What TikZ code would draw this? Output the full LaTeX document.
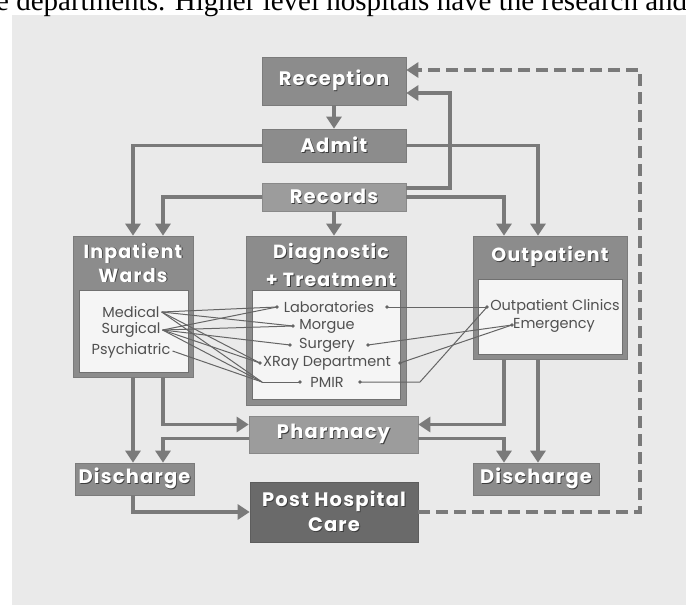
\documentclass[tikz,border=0pt]{standalone}
\usepackage{fontspec}
\setmainfont{Liberation Serif}
\newfontfamily\hfont{Poppins}[LetterSpace=6]
\newfontfamily\ifont{Poppins}
\usetikzlibrary{arrows.meta}
\definecolor{paper}{HTML}{EAEAEA}
\definecolor{hd}{HTML}{8C8C8C}
\definecolor{hdl}{HTML}{9C9C9C}
\definecolor{hdd}{HTML}{6A6A6A}
\definecolor{ln}{HTML}{7A7A7A}
\definecolor{thinln}{HTML}{656565}
\definecolor{innerc}{HTML}{F5F5F5}
\definecolor{txt}{HTML}{505050}
\definecolor{embsh}{HTML}{3C3C3C}
\newcommand\emb[1]{\makebox[0pt][l]{\kern0.9pt\raisebox{-0.9pt}{\textcolor{embsh}{#1}}}\textcolor{white}{#1}}
\tikzset{
  hbox/.style={fill=#1, draw=#1!88!black, line width=0.7pt, inner sep=0pt, align=center,
    font=\hfont\bfseries\fontsize{19.5}{25}\selectfont},
  hbox/.default=hd,
  innerbox/.style={fill=innerc, draw=hd!80!black, line width=0.6pt, inner sep=0pt},
  htext/.style={inner sep=0pt, align=center, font=\hfont\bfseries\fontsize{19}{#1}\selectfont},
  htext/.default=24,
  itemtxt/.style={inner sep=2pt, text=txt, font=\ifont\fontsize{14.5}{15}\selectfont},
  conn/.style={draw=ln, line width=3.6pt, -{Triangle[width=15pt,length=12pt]}},
  dconn/.style={draw=ln, line width=3.6pt, dash pattern=on 12pt off 6pt, -{Triangle[width=15pt,length=12pt]}},
  thin/.style={draw=thinln, line width=1pt},
  dot/.style={fill=thinln}
}
\begin{document}
\begin{tikzpicture}[x=1pt,y=-1pt]
\useasboundingbox (0,0) rectangle (686,605);
\clip (0,0) rectangle (686,605);
\fill[white] (0,0) rectangle (686,605);
\fill[paper] (12,15) rectangle (686,605);
\node[anchor=base west, inner sep=0pt, font=\fontsize{29}{29}\selectfont] (caption) at (-4,10) {e departments. Higher level hospitals have the research and};

% helper coordinates
\coordinate (cA) at (133,0);
\coordinate (cB) at (163,0);
\coordinate (cC) at (504,0);
\coordinate (cD) at (538,0);
\coordinate (cLoop) at (450,93);
\coordinate (cDash) at (640,70);

% compound boxes
\node[hbox, minimum width=120pt, minimum height=141pt] (inpat) at (133,306.5) {};
\node[innerbox, minimum width=109pt, minimum height=82pt] (inpatIn) at (133.5,331) {};
\node[htext] (inpatT) at (133,263) {\emb{Inpatient}\\\emb{Wards}};

\node[hbox, minimum width=160pt, minimum height=169pt] (diag) at (326,320.5) {};
\node[innerbox, minimum width=148pt, minimum height=109pt] (diagIn) at (326,344.5) {};
\node[htext=28] (diagT) at (331,265.5) {\emb{Diagnostic}\\\emb{+ Treatment}};

\node[hbox, minimum width=154pt, minimum height=123pt] (outp) at (550,297.5) {};
\node[innerbox, minimum width=144pt, minimum height=75pt] (outpIn) at (550,316.5) {};
\node[htext] (outpT) at (550,257) {\emb{Outpatient}};

% simple boxes
\node[hbox, minimum width=144pt, minimum height=48pt] (recep) at (334,81) {\emb{Reception}};
\node[hbox, minimum width=144pt, minimum height=33pt] (admit) at (334,145.5) {\emb{Admit}};
\node[hbox=hdl, minimum width=144pt, minimum height=28pt] (records) at (334,197) {\emb{Records}};
\node[hbox=hdl, minimum width=169pt, minimum height=37pt] (pharm) at (333.5,434.5) {\emb{Pharmacy}};
\node[hbox, minimum width=119pt, minimum height=32pt] (dischL) at (134.5,479) {\emb{Discharge}};
\node[hbox, minimum width=126pt, minimum height=32pt] (dischR) at (536,479) {\emb{Discharge}};
\node[hbox=hdd, minimum width=168pt, minimum height=60pt] (post) at (334,512) {\emb{Post Hospital}\\\emb{Care}};

% main connectors
\draw[conn] (recep.south) -- (admit.north);
\draw[conn] (admit.west) -| (inpat.north -| cA);
\draw[conn] (admit.east) -| (outp.north -| cD);
\draw[conn] (records.west) -| (inpat.north -| cB);
\draw[conn] (records.east) -| (outp.north -| cC);
\draw[conn] (records.south) -- (records.south |- diag.north);
\draw[conn] ([yshift=9pt]records.east) -| (cLoop) -- (recep.east |- cLoop);
\draw[dconn] (post.east) -| (cDash) -- (recep.east |- cDash);
\draw[conn] (inpat.south -| cA) -- (dischL.north -| cA);
\draw[conn] (inpat.south -| cB) |- ([yshift=10pt]pharm.west);
\draw[conn] ([yshift=-4pt]pharm.west) -| (dischL.north -| cB);
\draw[conn] (outp.south -| cC) |- ([yshift=10pt]pharm.east);
\draw[conn] ([yshift=-4pt]pharm.east) -| (dischR.north -| cC);
\draw[conn] (outp.south -| cD) -- (dischR.north -| cD);
\draw[conn] (dischL.south -| cA) |- (post.west);

% items
\node[itemtxt] (med) at (131,312) {Medical};
\node[itemtxt] (surg) at (131,330) {Surgical};
\node[itemtxt] (psy) at (131,351) {Psychiatric};

\node[itemtxt] (lab) at (329,307) {Laboratories};
\node[itemtxt] (morg) at (327,326) {Morgue};
\node[itemtxt] (srg) at (327,345) {Surgery};
\node[itemtxt] (xray) at (327,363) {XRay Department};
\node[itemtxt] (pmir) at (327,382) {PMIR};
\node[itemtxt] (clin) at (555,307) {Outpatient Clinics};
\node[itemtxt] (emer) at (554,325) {Emergency};

\coordinate (labL) at (277,307);
\coordinate (labR) at (387,307);
\coordinate (morgL) at (293,326);
\coordinate (srgL) at (290,345);
\coordinate (srgR) at (368,345);
\coordinate (xrayL) at (260,363);
\coordinate (xrayR) at (400,363);
\coordinate (pmirJ) at (262,382);
\coordinate (pmirL) at (300,382);
\coordinate (pmirR) at (360,382);
\coordinate (pmirK) at (420,382);
\coordinate (clinL) at (487,307);
\coordinate (emerL) at (512,325);

\draw[thin] (med.east) -- (labL);
\draw[thin] (med.east) -- (morgL);
\draw[thin] (med.east) -- (xrayL);
\draw[thin] (med.east) -- (pmirJ);
\draw[thin] (surg.east) -- (labL);
\draw[thin] (surg.east) -- (morgL);
\draw[thin] (surg.east) -- (srgL);
\draw[thin] (surg.east) -- (xrayL);
\draw[thin] (surg.east) -- (pmirJ);
\draw[thin] (psy.east) -- (pmirJ);
\draw[thin] (pmirJ) -- (pmirL);
\draw[thin] (labR) -- (clinL);
\draw[thin] (srgR) -- (emerL);
\draw[thin] (xrayR) -- (emerL);
\draw[thin] (pmirR) -- (pmirK) -- (clinL);
\foreach \p in {labL,labR,morgL,srgL,srgR,xrayL,xrayR,pmirL,pmirR,clinL,emerL}
  \fill[dot] (\p) circle (1.8pt);
\end{tikzpicture}
\end{document}
